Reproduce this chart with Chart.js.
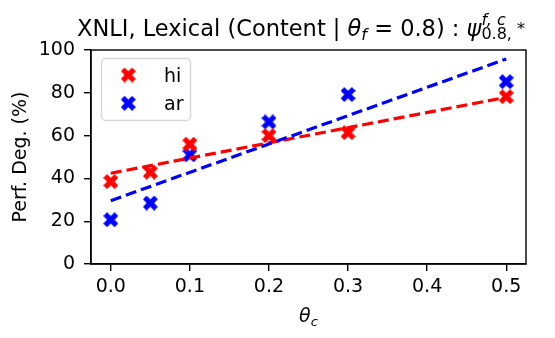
<!DOCTYPE html>
<html>
<head>
<meta charset="utf-8">
<script src="https://cdn.jsdelivr.net/npm/chart.js@4.4.1/dist/chart.umd.min.js"></script>
<style>
  html, body { margin: 0; padding: 0; background: #fff; }
  #chart { display: block; }
</style>
</head>
<body>
<canvas id="chart" width="555" height="338"></canvas>
<script>
// data
const thetaC = [0.0, 0.05, 0.1, 0.2, 0.3, 0.5];
const hiVals = [38.5, 42.9, 56.0, 60.0, 61.4, 78.2];
const arVals = [20.7, 28.5, 51.0, 66.4, 79.2, 85.2];

// dashed fit lines, end points at theta_c = 0 and 0.5
const trendX = [0.0, 0.5];
const hiTrend = [42.4, 77.9];
const arTrend = [29.6, 95.8];

const xTicks = [0.0, 0.1, 0.2, 0.3, 0.4, 0.5];
const yTicks = [0, 20, 40, 60, 80, 100];

const FONT = '"DejaVu Sans", sans-serif';

const pts = (xs, ys) => xs.map((x, i) => ({ x: x, y: ys[i] }));

// filled "X" marker like matplotlib's
function xMarker(color, size) {
  const c = document.createElement('canvas');
  c.width = c.height = size;
  const g = c.getContext('2d');
  const shape = [[-0.25,-0.5],[0,-0.25],[0.25,-0.5],[0.5,-0.25],[0.25,0],[0.5,0.25],
                 [0.25,0.5],[0,0.25],[-0.25,0.5],[-0.5,0.25],[-0.25,0],[-0.5,-0.25]];
  g.beginPath();
  shape.forEach((p, i) => {
    const px = size / 2 + p[0] * size, py = size / 2 + p[1] * size;
    if (i === 0) g.moveTo(px, py); else g.lineTo(px, py);
  });
  g.closePath();
  g.fillStyle = color;
  g.fill();
  return c;
}

function drawParts(ctx, x, y, parts) {
  parts.forEach(p => {
    ctx.font = (p.it ? 'italic ' : '') + p.sz + 'px ' + FONT;
    ctx.fillText(p.t, x, y + (p.dy || 0));
    if (!p.keep) x += ctx.measureText(p.t).width;
  });
  return x;
}

function partsWidth(ctx, parts) {
  let w = 0;
  parts.forEach(p => {
    ctx.font = (p.it ? 'italic ' : '') + p.sz + 'px ' + FONT;
    if (!p.keep) w += ctx.measureText(p.t).width;
  });
  return w;
}

const titleParts = [
  { t: 'XNLI, Lexical (Content | ', sz: 22.5 },
  { t: 'θ', sz: 22.5, it: true },
  { t: 'f', sz: 16, it: true, dy: 4 },
  { t: ' = 0.8) : ', sz: 22.5 },
  { t: 'ψ', sz: 22.5, it: true },
  { t: 'f, c', sz: 16, it: true, dy: -11, keep: true },
  { t: '0.8, ', sz: 16, dy: 3 },
  { t: '*', sz: 16, dy: -2 }
];
const xLabelParts = [
  { t: 'θ', sz: 19, it: true },
  { t: 'c', sz: 13, it: true, dy: 4 }
];

const framePlugin = {
  id: 'frame',
  afterDraw(chart) {
    const { ctx, chartArea: a } = chart;
    ctx.save();
    ctx.strokeStyle = '#000';
    ctx.lineWidth = 1.4;
    ctx.strokeRect(a.left, a.top, a.right - a.left, a.bottom - a.top);

    // legend, matplotlib style, upper left inside the axes
    ctx.beginPath();
    ctx.roundRect(101.5, 58.5, 89, 62, 4);
    ctx.fillStyle = 'rgba(255,255,255,0.8)';
    ctx.fill();
    ctx.strokeStyle = '#d6d6d6';
    ctx.lineWidth = 1.3;
    ctx.stroke();
    const entries = chart.data.datasets.filter(d => d.type !== 'line');
    entries.forEach((d, i) => {
      const cy = 75 + i * 28.3;
      const img = d.pointStyle;
      ctx.drawImage(img, 128.3 - img.width / 2, cy - img.height / 2);
      ctx.fillStyle = '#000';
      ctx.font = '19px ' + FONT;
      ctx.textBaseline = 'alphabetic';
      ctx.textAlign = 'left';
      ctx.fillText(d.label, 164, cy + 6.8);
    });

    ctx.fillStyle = '#000';
    ctx.textBaseline = 'alphabetic';
    ctx.textAlign = 'left';
    drawParts(ctx, 77, 35.5, titleParts);
    const w = partsWidth(ctx, xLabelParts);
    drawParts(ctx, (a.left + a.right) / 2 - w / 2, 322, xLabelParts);
    ctx.restore();
  }
};

new Chart(document.getElementById('chart'), {
  type: 'scatter',
  data: {
    datasets: [
      {
        label: 'hi',
        data: pts(thetaC, hiVals),
        pointStyle: xMarker('#ff0000', 15),
        backgroundColor: '#ff0000',
        borderColor: '#ff0000',
        order: 2
      },
      {
        label: 'ar',
        data: pts(thetaC, arVals),
        pointStyle: xMarker('#0000ff', 15),
        backgroundColor: '#0000ff',
        borderColor: '#0000ff',
        order: 3
      },
      {
        type: 'line',
        label: 'hi fit',
        data: pts(trendX, hiTrend),
        borderColor: '#ff0000',
        borderWidth: 3.2,
        borderDash: [11, 5],
        pointRadius: 0,
        fill: false,
        order: 1
      },
      {
        type: 'line',
        label: 'ar fit',
        data: pts(trendX, arTrend),
        borderColor: '#0000ff',
        borderWidth: 3.2,
        borderDash: [11, 5],
        pointRadius: 0,
        fill: false,
        order: 0
      }
    ]
  },
  options: {
    responsive: false,
    animation: false,
    devicePixelRatio: 1,
    layout: { padding: { top: 50, right: 29, left: 0, bottom: 0 } },
    plugins: {
      title: { display: false },
      tooltip: { enabled: false },
      legend: { display: false }
    },
    scales: {
      x: {
        type: 'linear',
        min: -0.025,
        max: 0.525,
        afterBuildTicks: s => { s.ticks = xTicks.map(v => ({ value: v })); },
        afterFit: s => { s.height = 74; },
        ticks: {
          color: '#000',
          font: { family: FONT, size: 19 },
          padding: 5,
          maxRotation: 0,
          callback: v => v.toFixed(1)
        },
        grid: { drawOnChartArea: false, drawTicks: true, tickLength: 7, color: '#000', lineWidth: 1.4 },
        border: { display: true, color: '#000', width: 1.4 }
      },
      y: {
        min: 0,
        max: 100,
        afterBuildTicks: s => { s.ticks = yTicks.map(v => ({ value: v })); },
        afterFit: s => { s.width = 91; },
        ticks: {
          color: '#000',
          font: { family: FONT, size: 19 },
          padding: 9
        },
        grid: { drawOnChartArea: false, drawTicks: true, tickLength: 7, color: '#000', lineWidth: 1.4 },
        border: { display: true, color: '#000', width: 1.4 },
        title: {
          display: true,
          text: 'Perf. Deg. (%)',
          color: '#000',
          font: { family: FONT, size: 19 },
          padding: { top: 10, bottom: 0 }
        }
      }
    }
  },
  plugins: [framePlugin]
});
</script>
</body>
</html>
